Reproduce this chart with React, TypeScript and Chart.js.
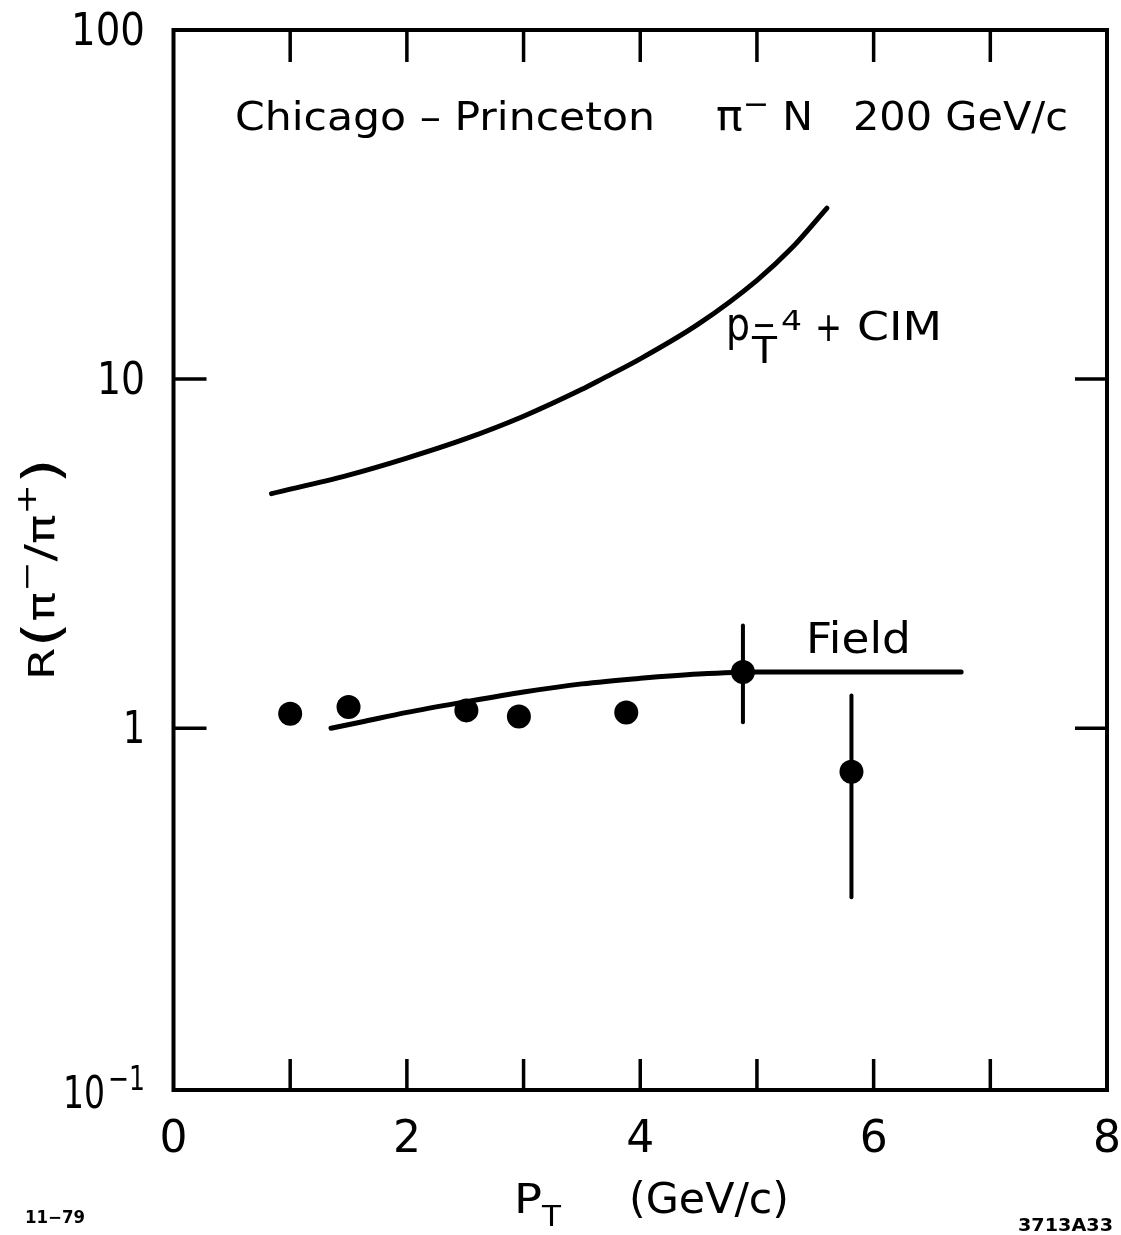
import React, { useEffect, useRef } from "react";
import { Chart, registerables } from "chart.js";

Chart.register(...registerables);

// ---- data ----
const cimPt = [0.84, 1.5, 2.0, 2.5, 3.0, 3.5, 3.67, 4.0, 4.5, 5.0, 5.3, 5.6];
const cimR = [4.7, 5.31, 5.94, 6.74, 7.83, 9.35, 10.0, 11.43, 14.39, 19.19, 23.77, 30.9];
const fieldPt = [1.35, 1.6, 2.0, 2.5, 3.0, 3.5, 4.0, 4.5, 5.0, 5.5, 6.0, 6.75];
const fieldR = [1.0, 1.04, 1.11, 1.19, 1.27, 1.34, 1.39, 1.43, 1.45, 1.45, 1.45, 1.45];
const dataPt = [1.0, 1.5, 2.51, 2.96, 3.88, 4.88, 5.81];
const dataR = [1.1, 1.15, 1.125, 1.08, 1.11, 1.45, 0.75];
const errPt = [4.88, 5.81];
const errLow = [1.04, 0.328];
const errHigh = [1.97, 1.24];
const xTickValues = [0, 2, 4, 6, 8];
const xTickLabels = ["0", "2", "4", "6", "8"];
const xMinorTicks = [1, 2, 3, 4, 5, 6, 7];
const yTickValues = [100, 10, 1, 0.1];
const yTickLabels = ["100", "10", "1", "10|−1"];
const yInnerTicks = [10, 1];

const FONT = '"DejaVu Sans", sans-serif';

type Seg = { t: string; s: number; dy?: number; bold?: boolean };

function drawRich(
  ctx: CanvasRenderingContext2D,
  segs: Seg[],
  x: number,
  y: number,
  width?: number,
  rotate?: boolean
) {
  const widths = segs.map((sg) => {
    ctx.font = `${sg.bold ? "bold " : ""}${sg.s}px ${FONT}`;
    return ctx.measureText(sg.t).width;
  });
  const total = widths.reduce((a, b) => a + b, 0);
  const sx = width ? width / total : 1;
  ctx.save();
  ctx.translate(x, y);
  if (rotate) ctx.rotate(-Math.PI / 2);
  ctx.scale(sx, 1);
  ctx.textAlign = "left";
  ctx.textBaseline = "alphabetic";
  let cx = 0;
  segs.forEach((sg, i) => {
    ctx.font = `${sg.bold ? "bold " : ""}${sg.s}px ${FONT}`;
    ctx.fillText(sg.t, cx, sg.dy || 0);
    cx += widths[i];
  });
  ctx.restore();
}

const decorPlugin = {
  id: "decor",
  afterDatasetsDraw(chart: any) {
    const ctx: CanvasRenderingContext2D = chart.ctx;
    const { left, right, top, bottom } = chart.chartArea;
    const xs = chart.scales.x;
    const ys = chart.scales.y;
    ctx.save();
    ctx.strokeStyle = "#000";
    ctx.fillStyle = "#000";
    // frame
    ctx.lineWidth = 4;
    ctx.lineJoin = "miter";
    ctx.strokeRect(left, top, right - left, bottom - top);
    // ticks
    ctx.lineWidth = 3.5;
    ctx.beginPath();
    xMinorTicks.forEach((v) => {
      const px = xs.getPixelForValue(v);
      ctx.moveTo(px, bottom);
      ctx.lineTo(px, bottom - 31);
      ctx.moveTo(px, top);
      ctx.lineTo(px, top + 32);
    });
    yInnerTicks.forEach((v) => {
      const py = ys.getPixelForValue(v);
      ctx.moveTo(left, py);
      ctx.lineTo(left + 33, py);
      ctx.moveTo(right, py);
      ctx.lineTo(right - 32, py);
    });
    ctx.stroke();

    // x tick labels
    ctx.font = `44px ${FONT}`;
    ctx.textAlign = "center";
    ctx.textBaseline = "alphabetic";
    xTickValues.forEach((v, i) => {
      const px = xs.getPixelForValue(v);
      ctx.fillText(xTickLabels[i], px, bottom + 62);
    });

    // y tick labels (right edge at x=145)
    yTickValues.forEach((v, i) => {
      const py = ys.getPixelForValue(v);
      const lab = yTickLabels[i];
      if (lab.includes("|")) {
        const [base, sup] = lab.split("|");
        drawRich(ctx, [{ t: base, s: 44 }], 63, bottom + 18, 42);
        drawRich(ctx, [{ t: sup, s: 34 }], 108, bottom, 37);
      } else {
        const target = lab.length === 3 ? 74 : lab.length === 2 ? 48 : 22;
        drawRich(ctx, [{ t: lab, s: 44 }], 145 - target, py + 15, target);
      }
    });

    // title
    drawRich(ctx, [{ t: "Chicago – Princeton", s: 39 }], 235, 130, 420);
    drawRich(
      ctx,
      [
        { t: "π", s: 42 },
        { t: "−", s: 30, dy: -16 },
        { t: " N", s: 39 },
      ],
      716,
      130,
      97
    );
    drawRich(ctx, [{ t: "200 GeV/c", s: 39 }], 853, 130, 215);

    // curve labels
    drawRich(ctx, [{ t: "Field", s: 42 }], 806, 653, 105);
    drawRich(ctx, [{ t: "p", s: 46 }], 726, 340, 24);
    drawRich(ctx, [{ t: "T", s: 38 }], 752, 363, 25);
    drawRich(ctx, [{ t: "−", s: 36 }], 752, 337, 24);
    drawRich(ctx, [{ t: "4", s: 26 }], 781, 330, 21);
    drawRich(ctx, [{ t: "+", s: 40 }], 815, 341, 27);
    drawRich(ctx, [{ t: "CIM", s: 39 }], 857, 340, 85);

    // axis titles
    drawRich(ctx, [{ t: "P", s: 40 }], 514, 1213, 28);
    drawRich(ctx, [{ t: "T", s: 28 }], 542, 1226, 19);
    drawRich(ctx, [{ t: "(GeV/c)", s: 42 }], 629, 1213, 160);
    drawRich(
      ctx,
      [
        { t: "R", s: 36 },
        { t: "(", s: 52, dy: 5 },
        { t: "π", s: 38 },
        { t: "−", s: 28, dy: -18 },
        { t: "/", s: 40 },
        { t: "π", s: 38 },
        { t: "+", s: 28, dy: -18 },
        { t: ")", s: 52, dy: 5 },
      ],
      54,
      680,
      222,
      true
    );

    // footnotes
    drawRich(ctx, [{ t: "11−79", s: 17, bold: true }], 25, 1223, 60);
    drawRich(ctx, [{ t: "3713A33", s: 17, bold: true }], 1018, 1231, 95);
    ctx.restore();
  },
};

export default function App() {
  const ref = useRef<HTMLCanvasElement | null>(null);
  useEffect(() => {
    if (!ref.current) return;
    const toXY = (xa: number[], ya: number[]) => xa.map((x, i) => ({ x, y: ya[i] }));
    const errSets = errPt.map((x, i) => ({
      type: "line" as const,
      data: [
        { x, y: errLow[i] },
        { x, y: errHigh[i] },
      ],
      borderColor: "#000",
      borderWidth: 4,
      pointRadius: 0,
      borderCapStyle: "round" as const,
      order: 2,
    }));
    const chart = new Chart(ref.current, {
      type: "scatter",
      data: {
        datasets: [
          {
            type: "scatter",
            data: toXY(dataPt, dataR),
            backgroundColor: "#000",
            borderColor: "#000",
            pointRadius: 12,
            pointBorderWidth: 0,
            order: 0,
          },
          {
            type: "line",
            data: toXY(cimPt, cimR),
            borderColor: "#000",
            borderWidth: 5,
            pointRadius: 0,
            cubicInterpolationMode: "monotone",
            borderCapStyle: "round",
            order: 1,
          },
          {
            type: "line",
            data: toXY(fieldPt, fieldR),
            borderColor: "#000",
            borderWidth: 5,
            pointRadius: 0,
            cubicInterpolationMode: "monotone",
            borderCapStyle: "round",
            order: 1,
          },
          ...errSets,
        ] as any,
      },
      options: {
        animation: false,
        responsive: false,
        devicePixelRatio: 1,
        layout: { padding: { left: 173.5, top: 30, right: 14, bottom: 145 } },
        plugins: { legend: { display: false }, tooltip: { enabled: false } },
        scales: {
          x: { type: "linear", min: 0, max: 8, display: false },
          y: { type: "logarithmic", min: 0.092, max: 100, display: false },
        },
      },
      plugins: [decorPlugin],
    });
    return () => chart.destroy();
  }, []);
  return (
    <div style={{ position: "absolute", left: 0, top: 0, width: 1121, height: 1235, background: "#fff" }}>
      <canvas ref={ref} width={1121} height={1235} />
    </div>
  );
}
